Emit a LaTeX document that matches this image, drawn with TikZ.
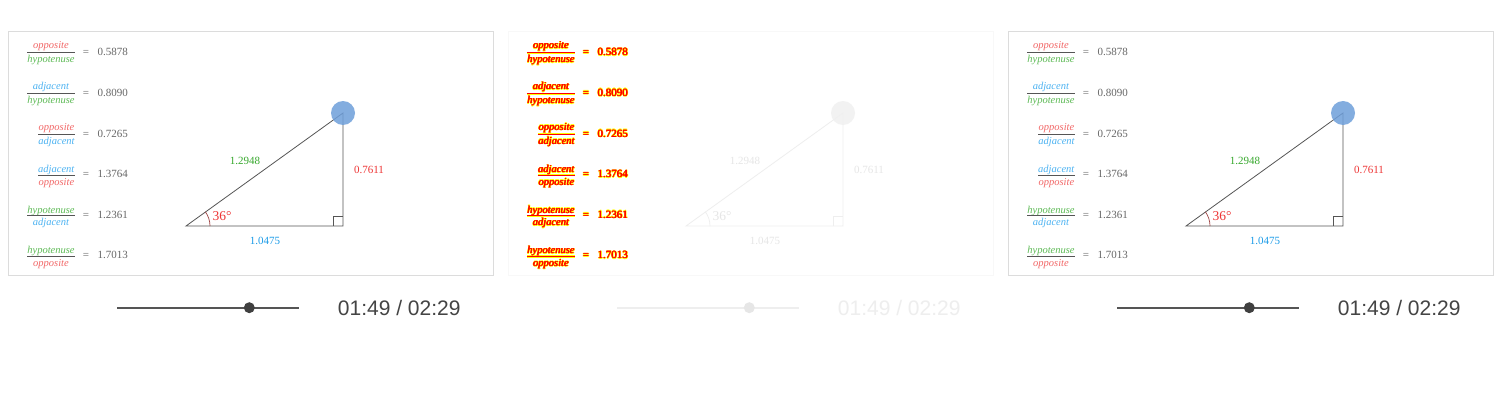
\documentclass[tikz,border=0pt]{standalone}
\usepackage{amsmath}
\usepackage{fontspec}
\setmainfont{Liberation Serif}
\newfontfamily\clockfont{Liberation Sans}
\usetikzlibrary{calc}
\definecolor{oppred}{HTML}{F26868}
\definecolor{hypgreen}{HTML}{5DBA55}
\definecolor{adjblue}{HTML}{4DB3F2}
\definecolor{oppdark}{HTML}{EE3535}
\definecolor{hypdark}{HTML}{36A82C}
\definecolor{adjdark}{HTML}{1A9BE8}
\definecolor{valgray}{HTML}{666666}
\definecolor{bargray}{HTML}{555555}
\definecolor{linegray}{HTML}{555555}
\definecolor{arcred}{HTML}{A04545}
\definecolor{dotblue}{HTML}{6E9FDA}
\definecolor{framegray}{HTML}{DCDCDC}
\definecolor{trackgray}{HTML}{555555}
\definecolor{thumbgray}{HTML}{404040}
\definecolor{clockgray}{HTML}{444444}
\definecolor{ghostline}{HTML}{EEEEEE}
\definecolor{ghosttext}{HTML}{E6E6E6}
\definecolor{ghostdot}{HTML}{F0F0F0}
\definecolor{ghostframe}{HTML}{F8F8F8}
\definecolor{diffred}{HTML}{FF0000}
\definecolor{haloyellow}{HTML}{FFFF00}
\newcommand\wopp{\textcolor{oppc}{\textit{opposite}}}
\newcommand\whyp{\textcolor{hypc}{\textit{hypotenuse}}}
\newcommand\wadj{\textcolor{adjc}{\textit{adjacent}}}
\newcommand\numlow[1]{\raisebox{-2.4pt}[\height][0pt]{#1}}
\newcommand\plainwrap[1]{#1}
\newcommand\yellowall{\colorlet{oppc}{haloyellow}\colorlet{hypc}{haloyellow}\colorlet{adjc}{haloyellow}\color{haloyellow}}
\newcommand\halo[1]{%
  \foreach \hx/\hy in {.6/0,-.6/0,0/.6,0/-.6,.45/.45,-.45/.45,.45/-.45,-.45/-.45}{\rlap{\kern\hx pt\raise\hy pt\hbox{\yellowall#1}}}%
  \foreach \hx in {.25,-.25}{\rlap{\kern\hx pt\hbox{#1}}}#1}
\tikzset{
  live/.code={\colorlet{oppc}{oppred}\colorlet{hypc}{hypgreen}\colorlet{adjc}{adjblue}%
    \colorlet{valc}{valgray}\colorlet{barc}{bargray}\colorlet{linec}{linegray}%
    \colorlet{sidehyp}{hypdark}\colorlet{sideopp}{oppdark}\colorlet{sideadj}{adjdark}%
    \colorlet{anglec}{oppdark}\colorlet{arcc}{arcred}\colorlet{dotc}{dotblue}%
    \colorlet{framec}{framegray}\colorlet{trackc}{trackgray}\colorlet{thumbc}{thumbgray}%
    \colorlet{clockc}{clockgray}\let\ratiowrap\plainwrap},
  ghost/.code={\colorlet{oppc}{diffred}\colorlet{hypc}{diffred}\colorlet{adjc}{diffred}%
    \colorlet{valc}{diffred}\colorlet{barc}{diffred}\colorlet{linec}{ghostline}%
    \colorlet{sidehyp}{ghosttext}\colorlet{sideopp}{ghosttext}\colorlet{sideadj}{ghosttext}%
    \colorlet{anglec}{ghosttext}\colorlet{arcc}{ghostline}\colorlet{dotc}{ghostdot}%
    \colorlet{framec}{ghostframe}\colorlet{trackc}{ghostline}\colorlet{thumbc}{ghosttext}%
    \colorlet{clockc}{ghostline}\let\ratiowrap\halo},
  frame/.style={draw=framec, line width=1pt},
  ratio/.style={anchor=east, inner sep=0pt, text=barc, font=\fontsize{10.5}{12}\selectfont},
  eqs/.style={anchor=base, inner sep=0pt, text=valc, font=\fontsize{11}{13}\selectfont},
  val/.style={anchor=base west, inner sep=0pt, text=valc, font=\fontsize{11}{13}\selectfont},
  leg/.style={draw=linec, line width=0.8pt},
  arcline/.style={draw=arcc, line width=0.7pt},
  side/.style={inner sep=0pt, text=#1, font=\fontsize{11}{13}\selectfont},
  anglelbl/.style={inner sep=0pt, text=anglec, font=\fontsize{13.5}{15}\selectfont},
  dot/.style={circle, inner sep=0pt, minimum size=24pt, fill=dotc, fill opacity=0.85},
  track/.style={draw=trackc, line width=1.8pt},
  thumb/.style={circle, inner sep=0pt, minimum size=11pt, fill=thumbc},
  clock/.style={anchor=west, inner sep=0pt, text=clockc, font=\clockfont\fontsize{21}{24}\selectfont}
}
\newcommand\trigpanel[3]{%
\begin{scope}[xshift=#1pt, name prefix=#2-, #3]
\draw[frame] (8,32) rectangle (493,275);
\foreach \r/\n/\d/\v in {0/\wopp/\whyp/0.5878, 1/\wadj/\whyp/0.8090, 2/\wopp/\wadj/0.7265,
                         3/\wadj/\wopp/1.3764, 4/\whyp/\wadj/1.2361, 5/\whyp/\wopp/1.7013}{
  \node[ratio] (q\r) at (76,{53.5+40.6*\r}) {\ratiowrap{$\dfrac{\numlow{\n}}{\d}$}};
  \node[eqs] (e\r) at (86,{55.8+40.6*\r}) {\ratiowrap{=}};
  \node[val] (v\r) at (97.5,{55.8+40.6*\r}) {\ratiowrap{\v}};
}
\coordinate (A) at (186,226);
\coordinate (B) at (343,226);
\coordinate (C) at (343,113);
\draw[leg] (A) -- (B) -- (C) -- cycle;
\draw[leg] ($(B)+(-10,0)$) |- ($(B)+(0,-10)$);
\draw[arcline] ($(A)+(24,0)$) arc[start angle=0, end angle=-36, radius=24];
\node[side=sidehyp] (hyp) at (245,161) {1.2948};
\node[side=sideopp] (opp) at (369,170) {0.7611};
\node[side=sideadj] (adj) at (265,241) {1.0475};
\node[anglelbl] (ang) at (222,216.5) {36\textdegree};
\node[dot] (pt) at (C) {};
\coordinate (s0) at (117,307.7);
\coordinate (s1) at (299,307.7);
\draw[track] (s0) -- (s1);
\node[thumb] (knob) at (249.3,307.7) {};
\node[clock] (time) at (337.7,307.7) {01:49 / 02:29};
\end{scope}}
\begin{document}
\begin{tikzpicture}[x=1pt, y=-1pt]
\fill[white] (0,0) rectangle (1500,404);
\useasboundingbox (0,0) rectangle (1500,404);
\trigpanel{0}{left}{live}
\trigpanel{500}{mid}{ghost}
\trigpanel{1000}{right}{live}
\end{tikzpicture}
\end{document}
